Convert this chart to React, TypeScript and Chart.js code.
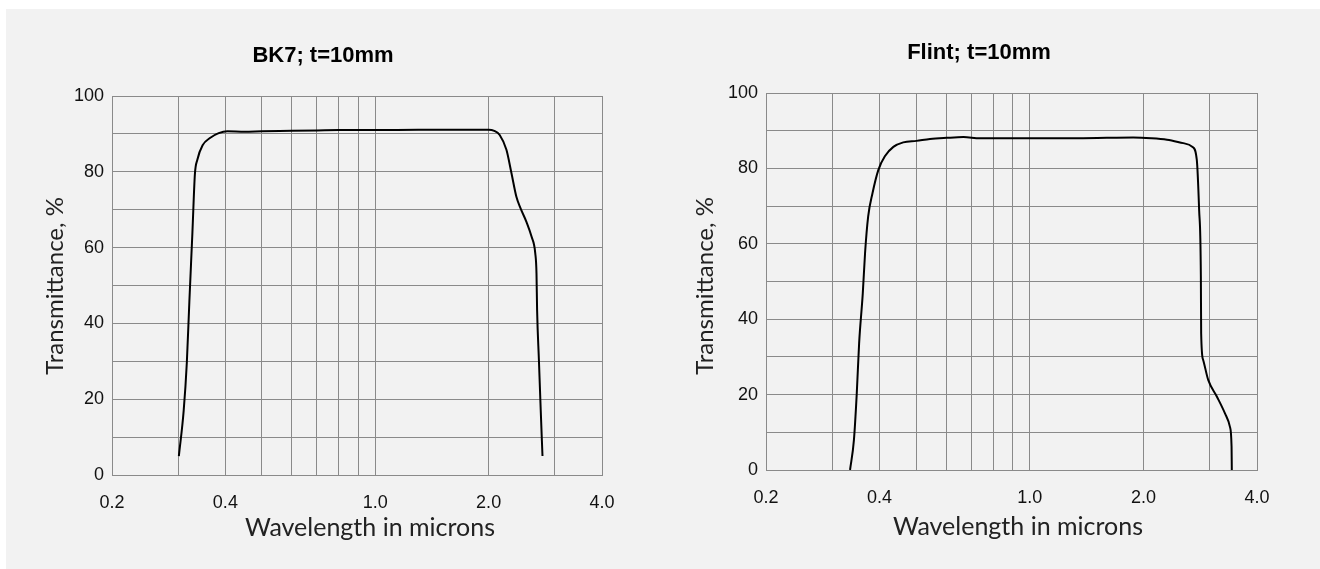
import React, { useEffect, useRef } from "react";
import { Chart, registerables } from "chart.js";

Chart.register(...registerables);

// ---- data ----
const xGridValues = [0.2, 0.3, 0.4, 0.5, 0.6, 0.7, 0.8, 0.9, 1.0, 2.0, 3.0, 4.0];
const xLabelValues = [0.2, 0.4, 1.0, 2.0, 4.0];
const yLabelStep = 20;

const bk7Wavelength = [
  0.301, 0.31, 0.316, 0.321, 0.327, 0.332, 0.337, 0.348, 0.364, 0.384, 0.405, 0.45, 0.5, 0.6, 0.7,
  0.8, 1.0, 1.3, 1.6, 2.0, 2.07, 2.14, 2.23, 2.3, 2.37, 2.43, 2.52, 2.6, 2.66, 2.68, 2.69, 2.72,
  2.75, 2.78,
];
const bk7Transmittance = [
  5, 17, 29.6, 45.9, 64, 79.4, 83.2, 87, 88.9, 90.2, 90.7, 90.6, 90.7, 90.8, 90.9, 91.0, 91.0,
  91.1, 91.1, 91.1, 90.8, 89.7, 85.8, 79.6, 73.4, 70.4, 66.8, 62.9, 58.5, 53.2, 43.5, 30.3, 17.2, 5,
];

const flintWavelength = [
  0.334, 0.342, 0.348, 0.353, 0.361, 0.366, 0.373, 0.383, 0.397, 0.413, 0.435, 0.462, 0.501, 0.544,
  0.602, 0.667, 0.738, 0.85, 1.0, 1.3, 1.6, 1.88, 2.1, 2.31, 2.55, 2.7, 2.77, 2.81, 2.84, 2.845,
  2.88, 2.97, 3.13, 3.29, 3.39, 3.425, 3.43,
];
const flintTransmittance = [
  0, 8, 20.4, 33.6, 46.9, 57.5, 67.2, 73.4, 79.6, 83.2, 85.7, 86.9, 87.3, 87.8, 88.1, 88.3, 88.0,
  88.0, 88.0, 88.0, 88.1, 88.2, 88.0, 87.6, 86.7, 85.7, 82.3, 69, 51.3, 36.3, 29.2, 23.9, 19.5,
  15.0, 11.5, 6.2, 0,
];

const bk7Title = "BK7; t=10mm";
const flintTitle = "Flint; t=10mm";
const yTitle = "Transmittance, %";
const xTitle = "Wavelength in microns";

// ---- styles ----
const GRID = "#8a8a8a";
const TICK_FONT = { family: "'Liberation Sans', Arial, sans-serif", size: 18 };
const X_TITLE_FONT = "25px Lato, 'Noto Sans', sans-serif";
const Y_TITLE_FONT = "24px Lato, 'Noto Sans', sans-serif";
const TITLE_FONT = "bold 22px 'Liberation Sans', Arial, sans-serif";

type Layout = {
  areaLeft: number;
  areaTop: number;
  areaRight: number;
  areaBottom: number;
  titleX: number;
  titleBase: number;
  yTitleBase: number;
  yTitleCenter: number;
  xTitleX: number;
  xTitleBase: number;
};

const W = 660;
const H = 569;

function makeChart(
  canvas: HTMLCanvasElement,
  wl: number[],
  tr: number[],
  title: string,
  L: Layout
) {
  const textPlugin = {
    id: "panelText",
    afterDraw(chart: any) {
      const ctx = chart.ctx as CanvasRenderingContext2D;
      ctx.save();
      ctx.fillStyle = "#000";
      ctx.font = TITLE_FONT;
      ctx.textAlign = "center";
      ctx.textBaseline = "alphabetic";
      ctx.fillText(title, L.titleX, L.titleBase);

      ctx.fillStyle = "#222";
      ctx.font = X_TITLE_FONT;
      ctx.fillText(xTitle, L.xTitleX, L.xTitleBase);

      ctx.font = Y_TITLE_FONT;
      ctx.translate(L.yTitleBase, L.yTitleCenter);
      ctx.rotate(-Math.PI / 2);
      ctx.fillText(yTitle, 0, 0);
      ctx.restore();
    },
  };

  return new Chart(canvas, {
    type: "line",
    data: {
      datasets: [
        {
          data: wl.map((x, i) => ({ x, y: tr[i] })),
          borderColor: "#000",
          borderWidth: 2,
          pointRadius: 0,
          fill: false,
          cubicInterpolationMode: "monotone",
        },
      ],
    },
    options: {
      responsive: false,
      animation: false,
      events: [],
      devicePixelRatio: 1,
      layout: {
        padding: {
          left: 0,
          top: L.areaTop,
          right: W - L.areaRight,
          bottom: 0,
        },
      },
      plugins: {
        legend: { display: false },
        tooltip: { enabled: false },
        title: { display: false },
      },
      scales: {
        x: {
          type: "logarithmic",
          min: 0.2,
          max: 4.0,
          afterBuildTicks: (s: any) => {
            s.ticks = xGridValues.map((v) => ({ value: v }));
          },
          afterFit: (s: any) => {
            s.height = H - L.areaBottom;
          },
          ticks: {
            autoSkip: false,
            maxRotation: 0,
            minRotation: 0,
            padding: 17,
            color: "#111",
            font: TICK_FONT,
            callback: (v: any) => (xLabelValues.includes(Number(v)) ? Number(v).toFixed(1) : ""),
          },
          grid: { color: GRID, lineWidth: 1, drawTicks: false },
          border: { color: GRID, width: 1 },
        },
        y: {
          type: "linear",
          min: 0,
          max: 100,
          afterFit: (s: any) => {
            s.width = L.areaLeft;
          },
          ticks: {
            stepSize: 10,
            padding: 8,
            color: "#111",
            font: TICK_FONT,
            callback: (v: any) => (Number(v) % yLabelStep === 0 ? String(v) : ""),
          },
          grid: { color: GRID, lineWidth: 1, drawTicks: false },
          border: { color: GRID, width: 1 },
        },
      },
    },
    plugins: [textPlugin],
  } as any);
}

export default function App() {
  const leftRef = useRef<HTMLCanvasElement>(null);
  const rightRef = useRef<HTMLCanvasElement>(null);

  useEffect(() => {
    const a = makeChart(leftRef.current!, bk7Wavelength, bk7Transmittance, bk7Title, {
      areaLeft: 112,
      areaTop: 96,
      areaRight: 602,
      areaBottom: 475,
      titleX: 323,
      titleBase: 62,
      yTitleBase: 63,
      yTitleCenter: 286,
      xTitleX: 370,
      xTitleBase: 536,
    });
    const b = makeChart(rightRef.current!, flintWavelength, flintTransmittance, flintTitle, {
      areaLeft: 106,
      areaTop: 93,
      areaRight: 597,
      areaBottom: 470,
      titleX: 319,
      titleBase: 59,
      yTitleBase: 53,
      yTitleCenter: 286,
      xTitleX: 358,
      xTitleBase: 535,
    });
    return () => {
      a.destroy();
      b.destroy();
    };
  }, []);

  return (
    <div
      style={{
        position: "fixed",
        left: 0,
        top: 0,
        width: 1320,
        height: 569,
        background: "#ffffff",
        overflow: "hidden",
      }}
    >
      <div
        style={{
          position: "absolute",
          left: 6,
          top: 9,
          width: 1314,
          height: 560,
          background: "#f2f2f2",
        }}
      />
      <canvas
        ref={leftRef}
        width={W}
        height={H}
        style={{ position: "absolute", left: 0, top: 0, width: W, height: H }}
      />
      <canvas
        ref={rightRef}
        width={W}
        height={H}
        style={{ position: "absolute", left: 660, top: 0, width: W, height: H }}
      />
    </div>
  );
}
